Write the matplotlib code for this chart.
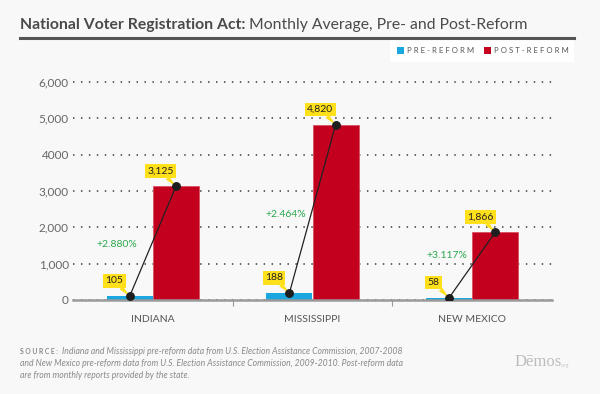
import matplotlib
matplotlib.use('Agg')
import matplotlib.pyplot as plt
from matplotlib.lines import Line2D
from matplotlib.patches import Rectangle
import numpy as np

# data
states = ['INDIANA', 'MISSISSIPPI', 'NEW MEXICO']
pre_reform = [105, 188, 58]
post_reform = [3125, 4820, 1866]
change_labels = ['+2.880%', '+2.464%', '+3.117%']
y_ticks = [0, 1000, 2000, 3000, 4000, 5000, 6000]
y_tick_labels = ['0', '1,000', '2,000', '3,000', '4000', '5,000', '6,000']
legend_labels = ['PRE-REFORM', 'POST-REFORM']
source_lines = [
    'Indiana and Mississippi pre-reform data from U.S. Election Assistance Commission, 2007-2008',
    'and New Mexico pre-reform data from U.S. Election Assistance Commission, 2009-2010. Post-reform data',
    'are from monthly reports provided by the state.',
]

BLUE = '#1aa7e0'
RED = '#c4001f'
YELLOW = '#ffe01a'
GREEN = '#2aa84c'
BG = '#f8f8f8'

plt.rcParams['font.family'] = ['Lato', 'DejaVu Sans']

W, H = 600, 394
fig = plt.figure(figsize=(6, 3.94), dpi=100, facecolor=BG)


def fx(px):
    return px / W


def fy(py):
    return 1 - py / H


ax = fig.add_axes([fx(73), fy(300), fx(552) - fx(73), fy(80) - fy(300)])
ax.set_facecolor(BG)

x = np.arange(len(states))
w = 0.29
ax.bar(x - w / 2, pre_reform, w, color=BLUE, zorder=2)
ax.bar(x + w / 2, post_reform, w, color=RED, edgecolor='#d9505f', linewidth=0.6, zorder=2)

# connecting lines, dots, value tags
for i in range(len(states)):
    xs = [x[i] - w / 2, x[i] + w / 2]
    ys = [pre_reform[i], post_reform[i]]
    ax.plot(xs, ys, color='#222222', lw=0.9, zorder=4)
    ax.plot(xs, ys, 'o', color='#1e1e1e', ms=5.4, zorder=6)
    for xv, yv in zip(xs, ys):
        ax.annotate(f'{yv:,}', xy=(xv, yv), xytext=(-11, 11), textcoords='offset points',
                    ha='center', va='center', fontsize=7.5, color='#222222', zorder=5,
                    bbox=dict(boxstyle='square,pad=0.22', fc=YELLOW, ec='none'),
                    arrowprops=dict(arrowstyle='wedge,tail_width=0.45', fc=YELLOW, ec='none',
                                    shrinkA=0, shrinkB=0))

pct_offsets = [(-26, -2), (-19, -4), (-18, 7)]
for i in range(len(states)):
    mx = x[i]
    my = (pre_reform[i] + post_reform[i]) / 2
    ax.annotate(change_labels[i], xy=(mx, my), xytext=pct_offsets[i], textcoords='offset points',
                ha='center', va='center', fontsize=7.5, color=GREEN, zorder=5)

ax.set_xlim(-0.5, 2.5)
ax.set_ylim(0, 6050)
ax.set_yticks(y_ticks)
ax.set_yticklabels(y_tick_labels)
ax.set_xticks(x)
ax.set_xticklabels(states)
ax.set_xticks([0.5, 1.5], minor=True)
ax.tick_params(axis='y', length=0, labelsize=8.5, labelcolor='#666666', pad=3)
ax.tick_params(axis='x', which='major', length=0, labelsize=7.5, labelcolor='#555555', pad=11)
ax.tick_params(axis='x', which='minor', length=4, width=0.8, color='#999999', direction='out')

ax.yaxis.grid(True, linestyle=(0, (0.8, 3.6)), color='#555555', lw=1.3)
ax.set_axisbelow(True)
for s in ['top', 'right', 'left']:
    ax.spines[s].set_visible(False)
ax.spines['bottom'].set_color('#9a9a9a')
ax.spines['bottom'].set_linewidth(1.8)
ax.spines['bottom'].set_zorder(3)

# title in two weights
t1 = fig.text(fx(20), fy(25), 'National Voter Registration Act:', fontsize=11.3, weight='bold',
              color='#4a4a4a', va='center', ha='left')
fig.canvas.draw()
bb = t1.get_window_extent(fig.canvas.get_renderer())
fig.text(bb.x1 / W + fx(4), fy(25), 'Monthly Average, Pre- and Post-Reform', fontsize=11.3,
         color='#4a4a4a', va='center', ha='left')
fig.add_artist(Line2D([fx(20), fx(574)], [fy(38), fy(38)], lw=2.2, color='#555555'))

# legend box
fig.add_artist(Rectangle((fx(390), fy(62)), fx(574) - fx(390), fy(40) - fy(62),
                         transform=fig.transFigure, fc='white', ec='none'))
for px, col, lab in zip([397, 484], [BLUE, RED], legend_labels):
    fig.add_artist(Rectangle((fx(px), fy(54)), fx(7), fy(47) - fy(54),
                             transform=fig.transFigure, fc=col, ec='none'))
    fig.text(fx(px + 10), fy(50.7), ' '.join(lab), fontsize=5.6, color='#555555',
             va='center', ha='left')

# source note
fig.text(fx(20), fy(352), 'S O U R C E :', fontsize=4.9, weight='bold', color='#888888',
         va='center', ha='left')
fig.text(fx(62), fy(352), source_lines[0], fontsize=6.2, style='italic', color='#8a8a8a',
         va='center', ha='left')
fig.text(fx(20), fy(363.5), source_lines[1], fontsize=6.2, style='italic', color='#8a8a8a',
         va='center', ha='left')
fig.text(fx(20), fy(375), source_lines[2], fontsize=6.2, style='italic', color='#8a8a8a',
         va='center', ha='left')

# logo
fig.text(fx(515), fy(362), 'Dēmos', fontsize=12, family='Liberation Serif', color='#bdbdbd',
         va='center', ha='left')
fig.text(fx(561), fy(365), '.org', fontsize=3.5, color='#c8c8c8', va='center', ha='left')

fig.savefig('out.png', dpi=100, facecolor=BG)
